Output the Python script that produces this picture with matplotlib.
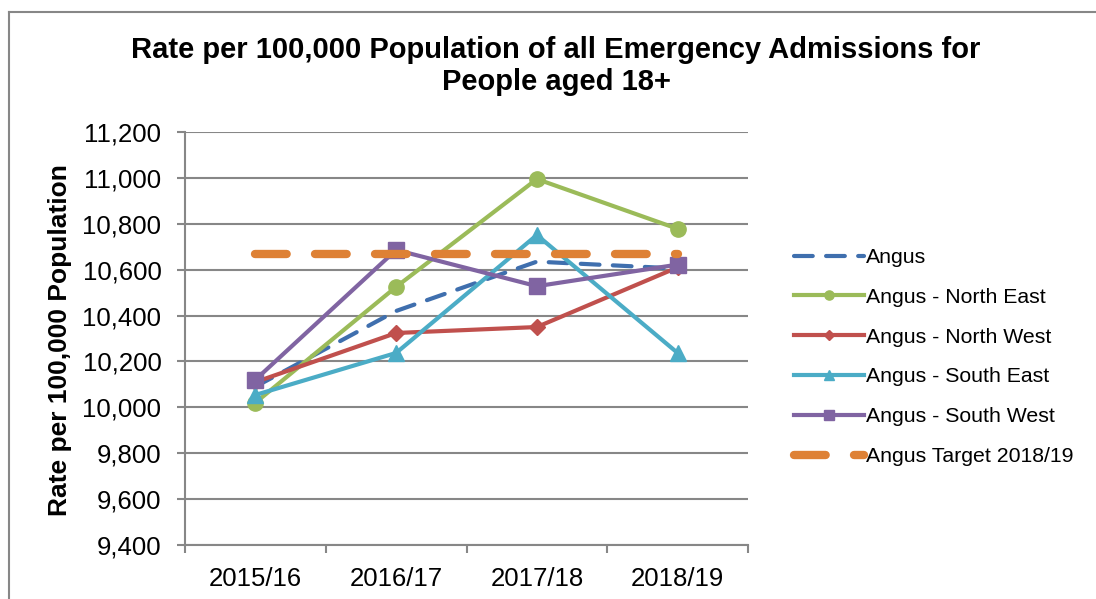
import numpy as np
import matplotlib
matplotlib.use("Agg")
import matplotlib.pyplot as plt
from matplotlib.lines import Line2D

plt.rcParams['font.family'] = ['Liberation Sans', 'DejaVu Sans']

# data
years = ["2015/16", "2016/17", "2017/18", "2018/19"]
angus = [10090, 10420, 10635, 10605]
north_east = [10020, 10525, 10995, 10778]
north_west = [10110, 10324, 10350, 10610]
south_east = [10054, 10237, 10751, 10237]
south_west = [10120, 10686, 10528, 10622]
target = [10668, 10668, 10668, 10668]

grey = "#878787"

fig = plt.figure(figsize=(10.96, 5.99), dpi=100)
ax = fig.add_axes([185/1096, 1 - 545/599, (748-185)/1096, (545-132)/599])

x = np.arange(len(years))

ax.plot(x, angus, color="#3F6FAE", lw=3, ls=(0, (4.5, 3.2)), dash_capstyle="round",
        label="Angus", zorder=3)
ax.plot(x, north_east, color="#9BBB59", lw=3, marker="o", ms=11,
        label="Angus - North East", zorder=4)
ax.plot(x, north_west, color="#C0504D", lw=3, marker="D", ms=8,
        label="Angus - North West", zorder=4)
ax.plot(x, south_east, color="#4BACC6", lw=3, marker="^", ms=11,
        label="Angus - South East", zorder=4)
ax.plot(x, south_west, color="#8064A2", lw=3, marker="s", ms=12,
        label="Angus - South West", zorder=4)
ax.plot(x, target, color="#DE8135", lw=6, ls=(0, (3.8, 3.4)), dash_capstyle="round",
        label="Angus Target 2018/19", zorder=5)

ax.set_xlim(-0.5, 3.5)
ax.set_ylim(9400, 11200)
ax.set_yticks(np.arange(9400, 11201, 200))
ax.yaxis.set_major_formatter(matplotlib.ticker.FuncFormatter(lambda v, p: f"{v:,.0f}"))
ax.set_xticks(x)
ax.set_xticklabels(years)
ax.set_xticks(np.arange(-0.5, 3.6, 1), minor=True)
ax.tick_params(axis="x", which="major", length=0, pad=16, labelsize=18.5)
ax.tick_params(axis="x", which="minor", length=6, width=1.5, color=grey, direction="out")
ax.tick_params(axis="y", length=6, width=1.5, color=grey, pad=11, labelsize=18.5)

ax.grid(axis="y", color=grey, lw=1.5)
ax.set_axisbelow(True)
for s in ["top", "right"]:
    ax.spines[s].set_visible(False)
for s in ["left", "bottom"]:
    ax.spines[s].set_color(grey)
    ax.spines[s].set_linewidth(1.5)

fig.text(60/1096, 1 - 340/599, "Rate per 100,000 Population", rotation=90,
         fontsize=19, fontweight="bold", ha="center", va="center")
fig.text(556/1096, 1 - 66/599, "Rate per 100,000 Population of all Emergency Admissions for\nPeople aged 18+",
         fontsize=21, fontweight="bold", ha="center", va="center", linespacing=1.15)

ax.legend(loc="center left", bbox_to_anchor=(785/1096, 1 - 357/599),
          bbox_transform=fig.transFigure, frameon=False, fontsize=15.3,
          handlelength=3.3, handletextpad=0.12, labelspacing=0.98, borderaxespad=0,
          markerscale=0.6)

# outer chart frame (left and top edges only are visible)
fx, fy = 8.5/1096, 1 - 11.5/599
fig.add_artist(Line2D([fx, fx], [0, fy], transform=fig.transFigure, color=grey, lw=1.5))
fig.add_artist(Line2D([fx, 1.01], [fy, fy], transform=fig.transFigure, color=grey, lw=1.5))

fig.savefig("out.png", dpi=100)
